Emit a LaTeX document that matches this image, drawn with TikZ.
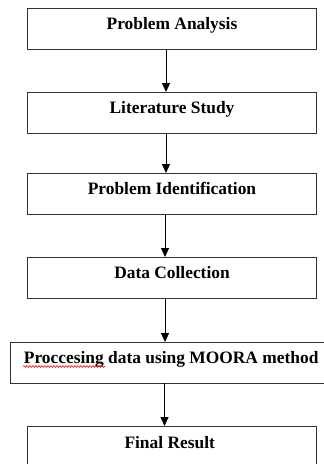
\documentclass[tikz,border=0pt]{standalone}
\usepackage{fontspec}
\setmainfont{Liberation Serif}
\usetikzlibrary{arrows.meta,decorations.pathmorphing}
\tikzset{
  x=1pt, y=-1pt,
  box/.style={draw=black!80, line width=1pt, rectangle, minimum width=289pt, minimum height=41pt, inner sep=0pt, anchor=north west},
  openbox/.style={rectangle, inner sep=0pt, anchor=north west},
  lbl/.style={font=\fontsize{17.4}{20}\selectfont\bfseries, anchor=base, inner sep=0pt},
  flow/.style={draw=black, line width=1pt, -{Triangle[width=8pt,length=9pt]}},
  rim/.style={draw=black!80, line width=1pt}
}
\begin{document}
\begin{tikzpicture}
\useasboundingbox (0,0) rectangle (324,464);
\node[box] (b1) at (27,8) {};
\node[box] (b2) at (27,92) {};
\node[box] (b3) at (27,173) {};
\node[box] (b4) at (27,257) {};
\node[openbox, minimum width=314pt, minimum height=41pt] (b5) at (10,342) {};
\node[openbox, minimum width=289pt, minimum height=38pt] (b6) at (27,426) {};
\draw[rim] (b5.north east) -- (b5.north west) -- (b5.south west) -- (b5.south east);
\draw[rim] (b6.south west) -- (b6.north west) -- (b6.north east) -- (b6.south east);
\node[lbl] (t1) at ([yshift=-21pt]b1.north) {Problem Analysis};
\node[lbl] (t2) at ([yshift=-21pt]b2.north) {Literature Study};
\node[lbl] (t3) at ([yshift=-21pt]b3.north) {Problem Identification};
\node[lbl] (t4) at ([yshift=-21pt]b4.north) {Data Collection};
\node[lbl] (t5) at ([xshift=4pt,yshift=-21pt]b5.north) {Proccesing data using MOORA method};
\node[lbl] (t6) at ([xshift=-2pt,yshift=-22pt]b6.north) {Final Result};
\coordinate (s1) at (23,366.5);
\coordinate (s2) at (105,366.5);
\draw[red, line width=0.6pt, decorate, decoration={snake, amplitude=0.9pt, segment length=3pt}] (s1) -- (s2);
\draw[flow] (b1.south -| 166,0) -- (b2.north -| 166,0);
\draw[flow] (b2.south -| 166,0) -- (b3.north -| 166,0);
\draw[flow] (b3.south -| 165,0) -- (b4.north -| 165,0);
\draw[flow] (b4.south -| 165,0) -- (b5.north -| 165,0);
\draw[flow] (b5.south -| 164.5,0) -- (b6.north -| 164.5,0);
\end{tikzpicture}
\end{document}
